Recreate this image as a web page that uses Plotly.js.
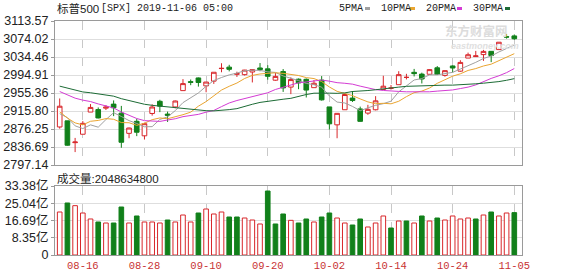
<!DOCTYPE html>
<html><head><meta charset="utf-8">
<script src="https://cdn.plot.ly/plotly-3.0.1.min.js"></script>
<style>html,body{margin:0;padding:0;background:#fff}#chart{width:578px;height:276px}</style>
</head><body><div id="chart"></div>
<script>
// ---------------- data ----------------
const dates = ['08-13','08-14','08-15','08-16','08-19','08-20','08-21','08-22','08-23','08-26','08-27','08-28','08-29','08-30','09-03','09-04','09-05','09-06','09-09','09-10','09-11','09-12','09-13','09-16','09-17','09-18','09-19','09-20','09-23','09-24','09-25','09-26','09-27','09-30','10-01','10-02','10-03','10-04','10-07','10-08','10-09','10-10','10-11','10-14','10-15','10-16','10-17','10-18','10-21','10-22','10-23','10-24','10-25','10-28','10-29','10-30','10-31','11-01','11-04','11-05'];
const openP = [2880.72,2894.15,2846.20,2864.74,2913.48,2919.01,2922.04,2930.94,2911.07,2866.70,2893.14,2861.28,2910.37,2937.09,2909.01,2924.67,2960.60,2980.33,2988.43,2971.01,2981.41,3009.08,3012.21,2996.41,2995.67,3001.50,3010.36,3008.42,2983.50,3002.43,2968.35,2985.73,2985.47,2967.07,2983.69,2924.78,2885.38,2918.56,2944.23,2920.40,2911.10,2918.55,2963.07,2965.81,2973.61,2989.68,3000.77,2996.84,2996.48,3010.73,2994.01,3014.78,3003.32,3032.12,3035.39,3039.74,3046.90,3050.72,3078.96,3080.80];
const highP = [2943.31,2894.15,2856.67,2893.63,2931.00,2923.63,2928.73,2939.08,2927.01,2879.27,2898.79,2890.03,2930.50,2940.43,2914.39,2938.84,2985.86,2985.03,2989.43,2979.39,3000.93,3020.74,3017.33,3002.19,3006.21,3007.83,3021.19,3016.37,2999.15,3007.98,2989.82,2987.28,2987.31,2983.85,2992.53,2924.78,2911.13,2953.74,2959.75,2925.47,2929.32,2948.46,2993.28,2972.84,3003.28,2997.54,3008.29,3000.00,3007.33,3014.57,3004.78,3016.07,3027.39,3044.08,3047.87,3050.10,3046.90,3066.95,3085.20,3083.95];
const lowP = [2877.05,2839.64,2825.51,2864.74,2913.48,2899.60,2917.91,2904.51,2834.97,2856.00,2860.59,2853.05,2905.67,2913.32,2891.85,2921.86,2960.60,2972.51,2969.39,2957.01,2975.31,3000.92,3002.90,2990.67,2993.73,2978.57,3003.16,2984.68,2982.23,2957.73,2952.86,2963.71,2945.53,2967.07,2938.70,2874.93,2855.94,2918.56,2935.68,2892.66,2907.41,2917.12,2963.07,2962.94,2973.61,2985.20,2991.79,2976.31,2995.35,2995.04,2991.21,3000.42,3001.94,3032.12,3034.81,3025.96,3023.19,3050.72,3074.87,3072.15];
const closeP = [2926.32,2840.60,2847.60,2888.68,2923.65,2900.51,2924.43,2922.95,2847.11,2878.38,2869.16,2887.94,2924.58,2926.46,2906.27,2937.78,2976.00,2978.71,2978.43,2979.39,3000.93,3009.57,3007.39,2997.96,3005.70,3006.73,3006.79,2992.07,2991.78,2966.60,2984.87,2977.62,2961.79,2976.74,2940.25,2887.61,2910.63,2952.01,2938.79,2893.06,2919.40,2938.13,2970.27,2966.15,2995.68,2989.69,2997.95,2986.20,3006.72,2995.99,3004.52,3010.29,3022.55,3039.42,3036.89,3046.77,3037.56,3066.91,3078.27,3074.62];
const prevClose = 2882.70;
const ma5 = [2909.95,2901.27,2883.17,2877.18,2885.37,2880.21,2896.97,2912.04,2903.73,2894.68,2888.41,2881.11,2881.43,2897.30,2902.88,2916.61,2934.22,2945.04,2955.44,2970.06,2982.69,2989.41,2995.14,2999.05,3004.31,3005.47,3004.91,3001.85,3000.61,2992.79,2988.42,2982.59,2976.53,2973.52,2968.25,2948.80,2935.40,2933.45,2925.86,2916.42,2922.78,2928.28,2931.93,2937.40,2957.93,2971.98,2983.95,2987.13,2995.25,2995.31,2998.28,3000.74,3008.01,3014.55,3022.73,3031.18,3036.64,3045.51,3053.28,3060.83];
const ma10 = [2914.22,2900.25,2889.65,2885.31,2893.20,2895.08,2899.12,2897.61,2890.45,2890.02,2884.31,2889.04,2896.74,2900.52,2898.78,2902.51,2907.66,2913.24,2926.37,2936.47,2949.65,2961.81,2970.09,2977.24,2987.19,2994.08,2997.16,2998.50,2999.83,2998.55,2996.95,2993.75,2989.19,2987.07,2980.52,2968.61,2959.00,2954.99,2949.69,2942.34,2935.79,2931.84,2932.69,2931.63,2937.17,2947.38,2956.11,2959.53,2966.33,2976.62,2985.13,2992.35,2997.57,3004.90,3009.02,3014.73,3018.69,3026.76,3033.92,3041.78];
const ma20 = [2958.61,2951.42,2944.04,2939.64,2936.57,2931.33,2926.57,2922.53,2913.60,2906.47,2899.27,2894.64,2893.19,2892.91,2895.99,2898.79,2903.39,2905.42,2908.41,2913.25,2916.98,2925.43,2933.42,2938.88,2942.98,2948.29,2952.41,2955.87,2963.10,2967.51,2973.30,2977.78,2979.64,2982.16,2983.86,2981.35,2978.08,2976.74,2974.76,2970.44,2966.37,2962.80,2960.94,2959.35,2958.85,2958.00,2957.55,2957.26,2958.01,2959.48,2960.46,2962.09,2965.13,2968.27,2973.10,2981.06,2987.40,2993.15,3000.12,3009.20];
const ma30 = [2970.40,2965.99,2961.05,2957.66,2955.91,2953.28,2950.99,2948.42,2942.87,2938.34,2933.84,2930.62,2928.27,2926.60,2923.98,2921.72,2920.27,2919.44,2917.85,2916.47,2916.06,2917.03,2918.83,2921.02,2926.39,2930.56,2934.65,2936.45,2938.89,2941.68,2943.63,2948.20,2952.01,2954.94,2955.50,2955.07,2954.61,2955.58,2958.63,2959.12,2960.80,2962.47,2963.99,2965.31,2968.29,2970.02,2970.76,2971.01,2971.95,2972.50,2972.62,2972.65,2973.15,2974.53,2975.57,2976.91,2977.93,2980.43,2983.31,2986.91];
// volume in 亿 (1e8 shares)
const volume = [20.80,25.16,23.87,20.32,17.42,15.97,15.48,15.48,23.22,15.48,18.87,15.97,15.97,15.48,16.93,15.97,19.35,15.97,20.32,22.25,19.84,20.80,18.38,18.38,17.90,16.93,15.00,30.96,15.00,19.84,16.77,15.48,17.42,15.97,18.38,20.32,17.90,15.48,14.51,17.42,13.55,15.48,18.87,13.06,16.45,16.45,15.48,18.87,16.45,17.90,16.93,18.87,17.42,17.90,17.42,19.35,20.80,18.87,20.32,20.49];
const priceTickText = ['2797.14','2836.69','2876.25','2915.80','2955.36','2994.91','3034.46','3074.02','3113.57'];
const volTickVals = [0, 8.345, 16.69, 25.035, 33.38];
const volTickText = ['0','8.35亿','16.69亿','25.04亿','33.38亿'];
const dateTickLabels = ['08-16','08-28','09-10','09-20','10-02','10-14','10-24','11-05'];
const maNames = ['5PMA','10PMA','20PMA','30PMA'];
const titleCode = '标普500';
const titleRest = '[SPX] 2019-11-06 05:00';
const volLabel = '成交量:2048634800';

// ---------------- styling ----------------
const RED = '#d8262a', GREEN = '#11801a';
const maColors = ['#a0a0a0', '#eaa531', '#d43bd4', '#1c6b35'];
const W = 578, H = 276, ML = 55, MR = 56, MT = 21, MB = 21;
const PW = W - ML - MR, PH = H - MT - MB;
const px2x = p => (p - ML) / PW;
const px2y = p => (H - MB - p) / PH;

const idx = dates.map((d, i) => i);
const dateTickVals = dateTickLabels.map(l => dates.indexOf(l));
const priceTickVals = priceTickText.map(Number);
const volUp = closeP.map((c, i) => c >= (i === 0 ? prevClose : closeP[i - 1]));

const traces = [
  {
    type: 'candlestick', x: idx, open: openP, high: highP, low: lowP, close: closeP,
    xaxis: 'x', yaxis: 'y', whiskerwidth: 0, hoverinfo: 'skip',
    increasing: {line: {color: RED, width: 1}, fillcolor: '#ffffff'},
    decreasing: {line: {color: GREEN, width: 1}, fillcolor: GREEN}
  }
];
[ma5, ma10, ma20, ma30].forEach((m, k) => traces.push({
  type: 'scatter', mode: 'lines', x: idx, y: m, xaxis: 'x', yaxis: 'y',
  line: {color: maColors[k], width: 1}, hoverinfo: 'skip'
}));
traces.push({
  type: 'bar', x: idx, y: volume, xaxis: 'x2', yaxis: 'y2', width: 0.6,
  marker: {color: volUp.map(u => u ? '#ffffff' : GREEN),
           line: {color: volUp.map(u => u ? RED : GREEN), width: 1}},
  hoverinfo: 'skip'
});

const frame = {showline: true, mirror: true, linecolor: '#9a9a9a', linewidth: 1, zeroline: false};
const xRange = [-0.61, 60];
const layout = {
  width: W, height: H, margin: {l: ML, r: MR, t: MT, b: MB},
  paper_bgcolor: '#fff', plot_bgcolor: '#fff', showlegend: false,
  boxgap: 0.4, boxgroupgap: 0,
  xaxis: Object.assign({}, frame, {anchor: 'y', domain: [0, 1], range: xRange,
    tickmode: 'array', tickvals: dateTickVals, showticklabels: false,
    showgrid: true, gridcolor: '#c8c8c8', griddash: 'dash', gridwidth: 1,
    rangeslider: {visible: false}}),
  yaxis: Object.assign({}, frame, {anchor: 'x', domain: [px2y(165), 1], range: [priceTickVals[0], priceTickVals[8]],
    tickmode: 'array', tickvals: priceTickVals, ticktext: priceTickText,
    showgrid: true, gridcolor: '#dedede', ticks: 'outside', ticklen: 3, tickcolor: '#9a9a9a',
    tickfont: {family: 'Liberation Sans, Noto Sans CJK SC', size: 12.5, color: '#222'}}),
  xaxis2: Object.assign({}, frame, {anchor: 'y2', domain: [0, 1], range: xRange,
    tickmode: 'array', tickvals: dateTickVals, ticktext: dateTickLabels,
    showgrid: true, gridcolor: '#c8c8c8', griddash: 'dash', gridwidth: 1, ticks: '',
    tickfont: {family: 'Liberation Mono', size: 10.5, color: '#c83232'}}),
  yaxis2: Object.assign({}, frame, {anchor: 'x2', domain: [0, px2y(186)], range: [0, volTickVals[4]],
    tickmode: 'array', tickvals: volTickVals, ticktext: volTickText,
    showgrid: true, gridcolor: '#dedede', ticks: 'outside', ticklen: 3, tickcolor: '#9a9a9a',
    tickfont: {family: 'Liberation Sans, Noto Sans CJK SC', size: 12.5, color: '#222'}}),
  annotations: [],
  shapes: []
};

const ann = (text, xpx, ypx, font, xanchor) => layout.annotations.push({
  text: text, xref: 'paper', yref: 'paper', x: px2x(xpx), y: px2y(ypx),
  xanchor: xanchor || 'left', yanchor: 'middle', showarrow: false, borderpad: 0, font: font
});

// watermark
ann('东方财富网', 476, 30.5, {family: 'Noto Sans CJK SC', size: 12.5, color: '#dcdcdc', weight: 700}, 'center');
ann('<i>eastmoney.com</i>', 485, 46, {family: 'Liberation Sans', size: 9, color: '#e0e0e0', weight: 700}, 'center');

// title
ann(titleCode, 56, 9, {family: 'Liberation Sans, Noto Sans CJK SC', size: 11.5, color: '#222'});
ann(titleRest, 100, 9, {family: 'Liberation Mono', size: 10, color: '#222'});
// legend
const legX = [338, 380, 425, 472];
const dashX = [365, 410, 457, 505];
maNames.forEach((n, k) => {
  ann(n, legX[k], 9, {family: 'Liberation Mono', size: 10, color: '#222'});
  layout.shapes.push({type: 'rect', xref: 'paper', yref: 'paper',
    x0: px2x(dashX[k]), x1: px2x(dashX[k] + 5), y0: px2y(10), y1: px2y(7),
    line: {width: 0}, fillcolor: maColors[k]});
});
// volume label
ann(volLabel, 56, 178, {family: 'Liberation Sans, Noto Sans CJK SC', size: 11.5, color: '#222'});

Plotly.newPlot('chart', traces, layout, {displayModeBar: false, staticPlot: true});
</script></body></html>
